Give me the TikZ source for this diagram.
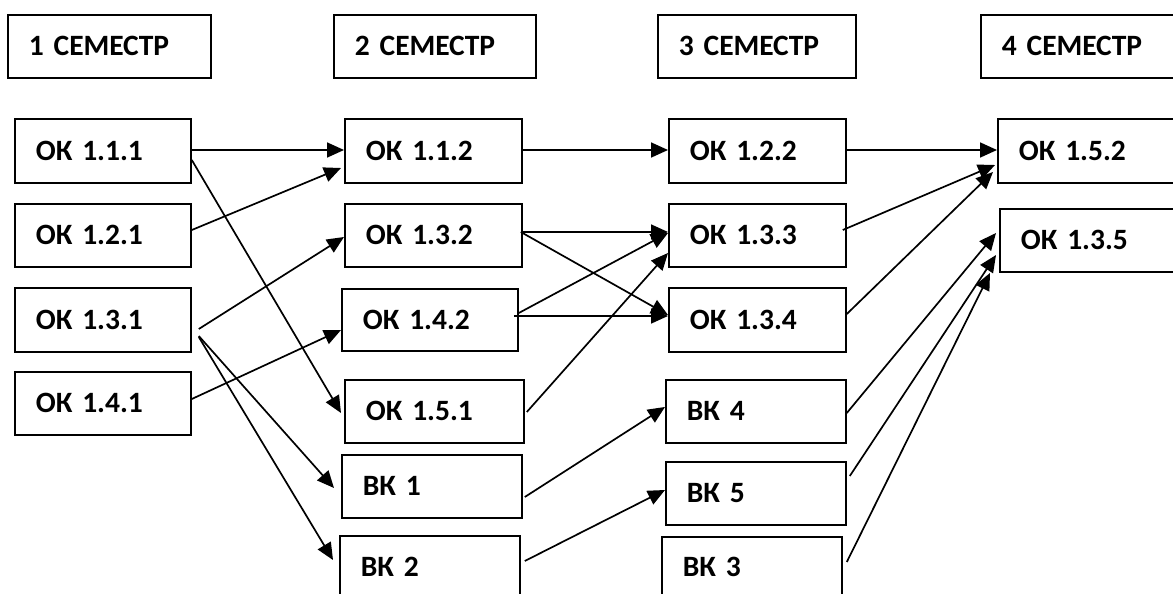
\documentclass[tikz,border=0pt]{standalone}
\usepackage{fontspec}
\setmainfont{Carlito}[WordSpace=0.7]
\usetikzlibrary{calc,arrows.meta}
\begin{document}
\begin{tikzpicture}[x=1pt,y=-1pt,
  bx/.style n args={2}{draw, line width=1.8pt, anchor=north west, inner xsep=21pt, inner ysep=0pt,
    minimum width=#1, text width=#1-42pt, minimum height=#2, align=left,
    font=\fontsize{29.5}{33}\selectfont\bfseries},
  arr/.style={line width=1.7pt, -{Triangle[length=17pt,width=15pt]}}]
\useasboundingbox (0,0) rectangle (1173,594);
\clip (0,0) rectangle (1173,594);
\fill[white] (0,0) rectangle (1173,594);
% headers
\node[bx={203pt}{63pt}] (h1) at (7,14) {1 СЕМЕСТР};
\node[bx={202pt}{63pt}] (h2) at (333,14) {2 СЕМЕСТР};
\node[bx={198pt}{63pt}] (h3) at (657,14) {3 СЕМЕСТР};
\node[bx={210pt}{63pt}] (h4) at (980,14) {4 СЕМЕСТР};
% column 1
\node[bx={176pt}{64pt}] (a1) at (14,118) {ОК 1.1.1};
\node[bx={176pt}{63pt}] (a2) at (14,203) {ОК 1.2.1};
\node[bx={176pt}{64pt}] (a3) at (14,287) {ОК 1.3.1};
\node[bx={176pt}{63pt}] (a4) at (14,371) {ОК 1.4.1};
% column 2
\node[bx={177pt}{64pt}] (b1) at (344,118) {ОК 1.1.2};
\node[bx={177pt}{63pt}] (b2) at (344,203) {ОК 1.3.2};
\node[bx={176pt}{62pt}] (b3) at (341,288) {ОК 1.4.2};
\node[bx={179pt}{63pt}] (b4) at (344,379) {ОК 1.5.1};
\node[bx={180pt}{63pt}] (b5) at (341,454) {ВК 1};
\node[bx={180pt}{61pt}] (b6) at (339,535) {ВК 2};
% column 3
\node[bx={177pt}{64pt}] (c1) at (668,118) {ОК 1.2.2};
\node[bx={177pt}{63pt}] (c2) at (668,203) {ОК 1.3.3};
\node[bx={177pt}{64pt}] (c3) at (668,287) {ОК 1.3.4};
\node[bx={180pt}{63pt}] (c4) at (665,379) {ВК 4};
\node[bx={180pt}{63pt}] (c5) at (665,461) {ВК 5};
\node[bx={180pt}{60pt}] (c6) at (661,536) {ВК 3};
% column 4
\node[bx={193pt}{64pt}] (d1) at (997,118) {ОК 1.5.2};
\node[bx={191pt}{63pt}] (d2) at (999,208) {ОК 1.3.5};
% arrows
\draw[arr] ($(a1.north east)+(0,32)$) -- ($(b1.north west)+(0,32)$);
\draw[arr] ($(a1.north east)+(0,42)$) -- ($(b4.north west)+(-3,34)$);
\draw[arr] ($(a2.north east)+(0,27)$) -- ($(b1.north west)+(-3,50)$);
\draw[arr] ($(a3.north east)+(7,42)$) -- ($(b2.north west)+(0,34)$);
\draw[arr] ($(a3.north east)+(7,49)$) -- ($(b5.north west)+(-7,34)$);
\draw[arr] ($(a3.north east)+(7,50)$) -- ($(b6.north west)+(-6,25)$);
\draw[arr] ($(a4.north east)+(0,28)$) -- ($(b3.north west)+(0,42)$);
\draw[arr] ($(b1.north east)+(0,32)$) -- ($(c1.north west)+(0,32)$);
\draw[arr] ($(b2.north east)+(-2,29)$) -- ($(c2.north west)+(0,29)$);
\draw[arr] ($(b2.north east)+(-2,29)$) -- ($(c3.north west)+(0,28)$);
\draw[arr] ($(b3.north east)+(0,25)$) -- ($(c2.north west)+(0,30)$);
\draw[arr] ($(b3.north east)+(-5,28)$) -- ($(c3.north west)+(0,29)$);
\draw[arr] ($(b4.north east)+(2,33)$) -- ($(c2.north west)+(0,50)$);
\draw[arr] ($(b5.north east)+(2,43)$) -- ($(c4.north west)+(0,28)$);
\draw[arr] ($(b6.north east)+(4,26)$) -- ($(c5.north west)+(0,29)$);
\draw[arr] ($(c1.north east)+(0,32)$) -- ($(d1.north west)+(0,32)$);
\draw[arr] ($(c2.north east)+(-4,27)$) -- ($(d1.north west)+(-2,47)$);
\draw[arr] ($(c3.north east)+(0,27)$) -- ($(d1.north west)+(-4,54)$);
\draw[arr] ($(c4.north east)+(0,34)$) -- ($(d2.north west)+(-3,25)$);
\draw[arr] ($(c5.north east)+(3,15)$) -- ($(d2.north west)+(-3,47)$);
\draw[arr] ($(c6.north east)+(4,26)$) -- ($(d2.north west)+(-9,65)$);
\end{tikzpicture}
\end{document}
